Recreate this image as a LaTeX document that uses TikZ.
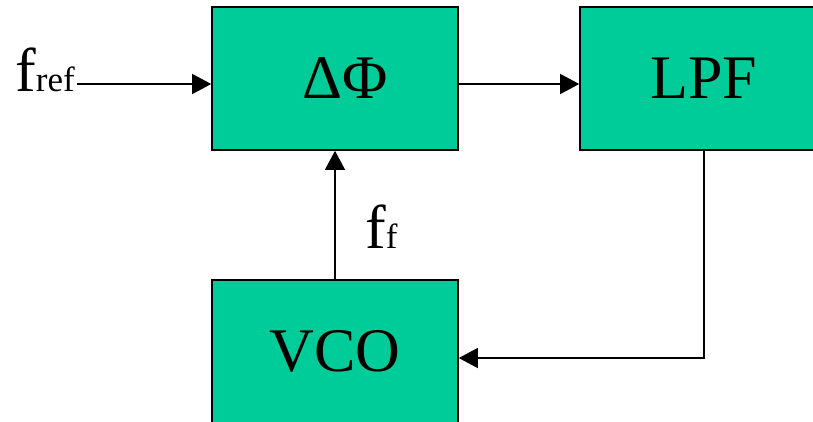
\documentclass[tikz,border=0pt]{standalone}
\usepackage{fontspec}
\setmainfont{Liberation Serif}
\usetikzlibrary{arrows.meta}
\usetikzlibrary{positioning}
\definecolor{blockgreen}{RGB}{0,204,153}
\newcommand{\smallsub}[1]{{\fontsize{35}{35}\selectfont #1}}
\tikzset{block/.style = {draw, line width=1.6pt, fill=blockgreen,
                         minimum width=246pt, minimum height=143pt, inner sep=0,
                         font=\fontsize{62}{62}\selectfont}}
\tikzset{signal/.style = {line width=1.3pt, -{Triangle[length=19pt, width=20pt]}}}
\tikzset{freq/.style = {anchor = base west, inner sep=2pt, font=\fontsize{62}{62}\selectfont}}

\begin{document}
\begin{tikzpicture}[x=1pt, y=-1pt]
      \useasboundingbox (0, 0) rectangle (813, 421);
      \clip (0, 0) rectangle (813, 421);
      \node [block] (phase) at (335, 78.5) {\hspace{20pt}ΔΦ};
      \node [block, minimum width=300pt] (lpf) at (730, 78.5) {\hspace{-52pt}LPF};
      \node [block] (vco) at (335, 351.5) {VCO};
      \node [freq] (fref) at (13, 91) {f\smallsub{ref}};
      \node [freq] (ff) at (363, 248) {f\smallsub{f}};

      \coordinate (inlet) at ([yshift=-5.5pt]phase.west);
      \coordinate (outlet) at ([yshift=-5.5pt]phase.east);
      \coordinate (drop) at (704, 0);
      \draw [signal] (inlet -| fref.east) -- (inlet);
      \draw [signal] (outlet) -- (outlet -| lpf.west);
      \draw [signal] (lpf.south -| drop) |- ([yshift=-6.5pt]vco.east);
      \draw [signal] (vco.north) -- (phase.south);
\end{tikzpicture}
\end{document}
